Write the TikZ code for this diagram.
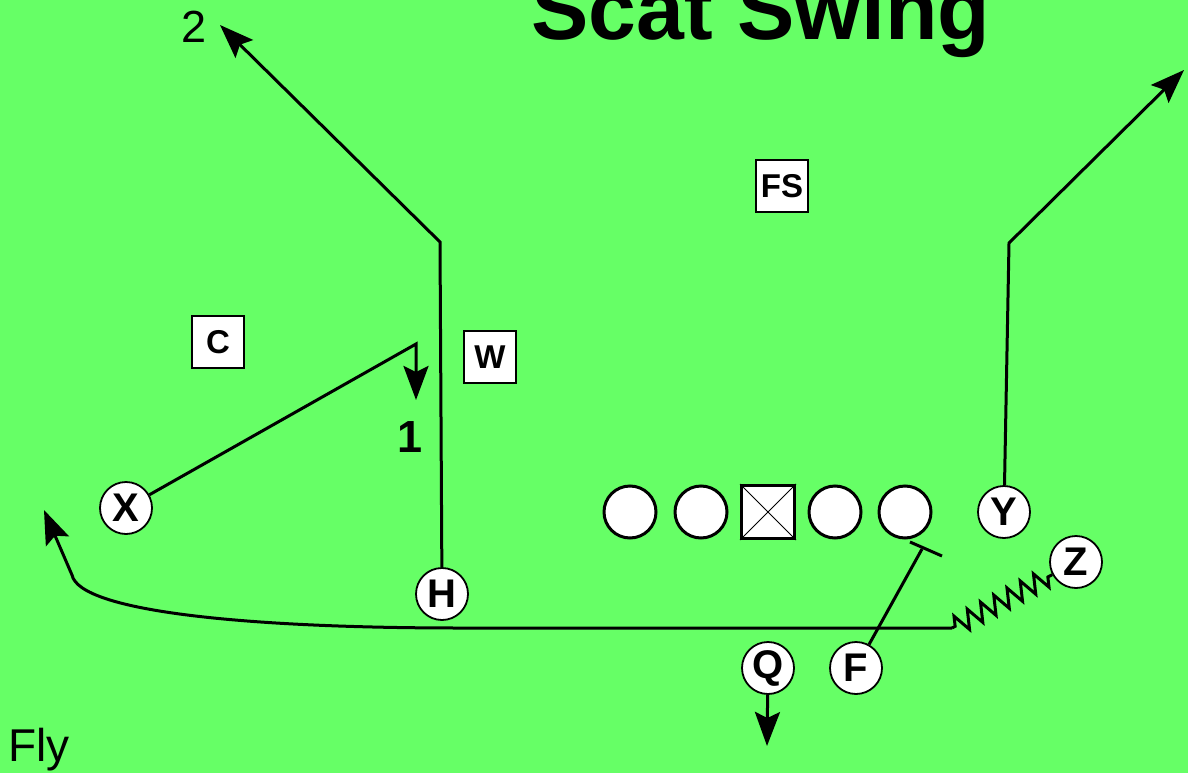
\documentclass[tikz,border=0pt]{standalone}
\usepackage{fontspec}
\setmainfont{Liberation Sans}
\usetikzlibrary{arrows.meta,decorations.pathmorphing}
\definecolor{field}{RGB}{102,255,102}
\begin{document}
\begin{tikzpicture}[x=1pt,y=-1pt,
  player/.style={circle,draw=black,line width=1.8pt,fill=white,minimum size=52pt,inner sep=0pt,font=\fontsize{40}{40}\selectfont\bfseries},
  lineman/.style={circle,draw=black,line width=3pt,fill=white,minimum size=52pt,inner sep=0pt},
  defender/.style={rectangle,draw=black,line width=1.5pt,fill=white,minimum size=52pt,inner sep=0pt,font=\fontsize{33}{33}\selectfont\bfseries},
  route/.style={draw=black,line width=3pt},
  tip/.style={-{Stealth[length=34pt,width=25pt,inset=6pt]}}
]
\fill[field] (0,0) rectangle (1188,773);
\useasboundingbox (0,0) rectangle (1188,773);

% title and texts
\node[font=\fontsize{86}{86}\selectfont\bfseries,anchor=base] (title) at (761,40) {Scat Swing};
\node[font=\fontsize{45}{45}\selectfont,anchor=base] (two) at (194,43) {2};
\node[font=\fontsize{46}{46}\selectfont,anchor=base west] (fly) at (5,761) {Fly};
\node[font=\fontsize{45}{45}\selectfont\bfseries,anchor=base] (one) at (410,452) {1};

% defenders
\node[defender] (C) at (218,342) {C};
\node[defender] (W) at (490,357) {W};
\node[defender] (FS) at (782,186) {FS};

% line
\node[lineman] (L1) at (630,512) {};
\node[lineman] (L2) at (701,512) {};
\node[rectangle,draw=black,line width=3pt,fill=white,minimum size=53pt,inner sep=0pt] (C0) at (768,512) {};
\draw[line width=1pt] (C0.north west) -- (C0.south east) (C0.north east) -- (C0.south west);
\node[lineman] (L4) at (835,512) {};
\node[lineman] (L5) at (905,512) {};

% backs and receivers
\node[player] (X) at (126,508) {X};
\node[player] (H) at (442,594) {H};
\node[player] (Q) at (768,668) {Q};
\node[player] (F) at (856,668) {F};
\node[player] (Y) at (1004,512) {Y};
\node[player] (Z) at (1076,562) {Z};

% route coordinates
\coordinate (h1) at (440,242);
\coordinate (h2) at (220,25);
\coordinate (x1) at (416,344);
\coordinate (x2) at (416,400);
\coordinate (y1) at (1009,243);
\coordinate (y2) at (1184,70);
\coordinate (z1) at (952,628);
\coordinate (z2) at (460,628);
\coordinate (z3) at (72,575);
\coordinate (z4) at (44,510);
\coordinate (f1) at (922,549);
\coordinate (ta) at (910,542);
\coordinate (tb) at (942,556);
\coordinate (q1) at (767,746);

% routes
\draw[route,tip] (H) -- (h1) -- (h2);
\draw[route,tip] (X) -- (x1) -- (x2);
\draw[route,tip] (Y) -- (y1) -- (y2);
\draw[route,decorate,decoration={zigzag,segment length=15pt,amplitude=9.5pt,pre length=5pt,post length=2pt}] (Z) -- (z1);
\draw[route,tip] (z1) -- (z2) .. controls (250,628) and (80,612) .. (z3) -- (z4);
\draw[route] (F) -- (f1);
\draw[route] (ta) -- (tb);
\draw[route,tip] (Q) -- (q1);
\end{tikzpicture}
\end{document}
